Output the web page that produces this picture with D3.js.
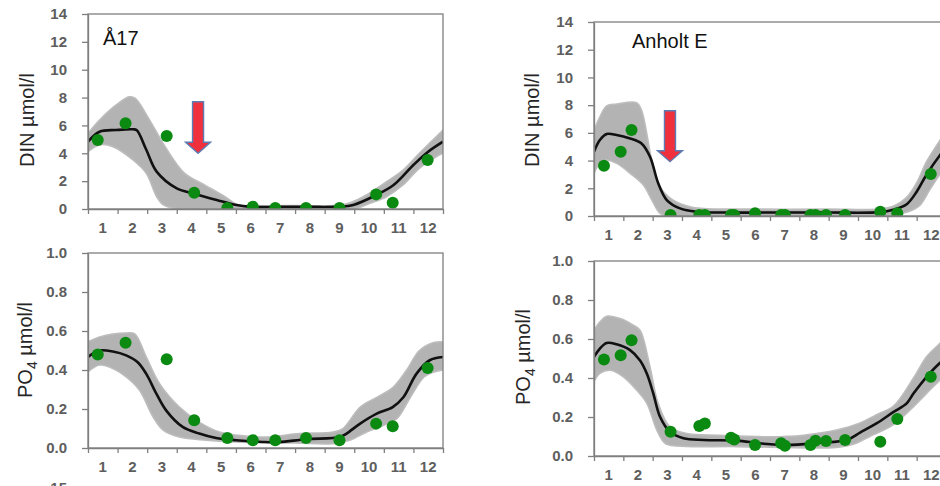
<!DOCTYPE html>
<html><head><meta charset="utf-8">
<script src="https://cdn.jsdelivr.net/npm/d3@7"></script>
<style>html,body{margin:0;padding:0;background:#fff;} svg{display:block;}</style>
</head><body>
<script>
// ---------- DATA ----------
const monthLabels = ["1","2","3","4","5","6","7","8","9","10","11","12"];
const dinTicks = [0,2,4,6,8,10,12,14];
const po4Ticks = [0,0.2,0.4,0.6,0.8,1.0];

// sampling dates (fractional month) and observations
const a17Dates = [0.33,1.27,2.66,3.59,4.71,5.57,6.33,7.37,8.5,9.74,10.3,11.48];
const a17Din   = [4.95,6.15,5.24,1.17,0.08,0.17,0.07,0.07,0.07,1.05,0.45,3.52];
const a17Po4   = [0.48,0.54,0.455,0.142,0.051,0.04,0.04,0.051,0.04,0.125,0.111,0.41];

const anhDates = [0.34,0.91,1.28,2.61,3.59,3.78,4.67,4.78,5.49,6.38,6.51,7.38,7.55,7.91,8.56,9.76,10.34,11.48];
const anhDin   = [3.63,4.64,6.2,0.07,0.07,0.07,0.07,0.07,0.19,0.07,0.07,0.07,0.07,0.07,0.07,0.31,0.19,3.03];
const anhPo4   = [0.495,0.517,0.594,0.124,0.154,0.167,0.094,0.085,0.056,0.065,0.053,0.056,0.078,0.077,0.082,0.073,0.19,0.406];

// climatological mean and band [month, value]
const a17DinMean = [[0,4.83],[0.39,5.55],[0.95,5.67],[1.52,5.72],[1.65,5.65],[1.97,4.25],[2.32,2.68],[3.0,1.48],[3.59,1.1],[4.35,0.65],[4.97,0.3],[5.5,0.15],[6.5,0.15],[7.5,0.15],[8.49,0.17],[8.97,0.29],[9.74,1.0],[10.33,1.72],[11.0,3.16],[11.5,4.11],[12,4.83]];
const a17DinHi = [[0,5.43],[0.39,6.39],[0.95,7.47],[1.39,8.06],[1.6,7.94],[2.05,6.51],[2.61,4.47],[3.27,2.56],[3.95,1.72],[4.63,0.88],[5.07,0.29],[5.5,0.25],[7,0.25],[8.6,0.3],[9.3,0.88],[10.09,1.96],[10.65,2.8],[11.2,4.0],[12,5.67]];
const a17DinLo = [[0,4.11],[0.39,4.6],[0.84,4.47],[1.52,3.52],[1.97,2.56],[2.32,0.88],[2.55,0.29],[2.9,0.05],[5,0.02],[9,0.02],[9.53,0.41],[10.09,0.88],[10.65,1.72],[11.2,2.92],[11.77,3.75],[12,4.0]];

const anhDinMean = [[0,4.64],[0.2,5.48],[0.43,5.92],[0.77,5.85],[1.23,5.6],[1.62,5.24],[1.91,4.28],[2.19,2.36],[2.48,1.15],[2.93,0.55],[3.5,0.31],[4.5,0.25],[6,0.25],[8,0.25],[9.75,0.28],[10.2,0.45],[10.66,0.85],[11.0,1.75],[11.33,2.96],[11.8,4.4],[12,4.9]];
const anhDinHi = [[0,6.2],[0.2,7.16],[0.43,7.94],[0.77,8.08],[1.45,8.18],[1.62,7.65],[1.97,4.04],[2.25,2.11],[2.7,1.15],[3.27,0.67],[3.73,0.55],[5,0.5],[8,0.5],[9.7,0.5],[10.2,0.7],[10.66,1.35],[11.0,2.4],[11.33,3.9],[11.8,5.5],[12,6.2]];
const anhDinLo = [[0,3.08],[0.32,4.04],[0.77,3.8],[1.23,3.08],[1.68,2.24],[1.97,1.15],[2.25,0.19],[2.48,0.02],[5,0.02],[9.8,0.02],[10.3,0.1],[10.7,0.3],[11.1,0.75],[11.45,1.9],[11.8,3.0],[12,3.4]];

const a17Po4Mean = [[0,0.467],[0.39,0.50],[0.84,0.495],[1.29,0.475],[1.68,0.44],[1.97,0.38],[2.31,0.279],[2.64,0.193],[3.2,0.108],[3.76,0.074],[4.33,0.051],[5.0,0.04],[5.9,0.031],[6.46,0.03],[7.37,0.045],[8.52,0.056],[8.74,0.074],[9.2,0.125],[9.76,0.176],[10.3,0.21],[10.66,0.26],[11.1,0.38],[11.55,0.45],[12,0.467]];
const a17Po4Hi = [[0,0.544],[0.39,0.57],[1.29,0.59],[1.58,0.585],[1.97,0.467],[2.42,0.33],[3.09,0.21],[3.76,0.133],[4.44,0.082],[5.1,0.065],[6.0,0.056],[7.14,0.074],[8.28,0.082],[8.62,0.1],[9.2,0.21],[9.76,0.26],[10.3,0.31],[10.77,0.4],[11.2,0.5],[11.66,0.54],[12,0.544]];
const a17Po4Lo = [[0,0.39],[0.39,0.425],[0.84,0.407],[1.29,0.364],[1.74,0.296],[2.2,0.159],[2.54,0.091],[3.09,0.056],[4.0,0.04],[5,0.031],[7,0.025],[8.28,0.022],[8.85,0.04],[9.42,0.082],[10.0,0.116],[10.44,0.15],[10.9,0.26],[11.36,0.364],[11.7,0.39],[12,0.40]];

const anhPo4Mean = [[0,0.508],[0.2,0.551],[0.43,0.58],[0.77,0.573],[1.23,0.543],[1.57,0.49],[1.8,0.423],[2.02,0.321],[2.25,0.201],[2.59,0.124],[3.05,0.091],[3.73,0.082],[4.87,0.079],[5.66,0.065],[6.57,0.056],[7.7,0.068],[8.61,0.082],[9.07,0.12],[9.63,0.167],[10.2,0.225],[10.66,0.27],[10.89,0.32],[11.34,0.406],[11.8,0.478],[12,0.5]];
const anhPo4Hi = [[0,0.645],[0.2,0.688],[0.43,0.717],[0.89,0.705],[1.34,0.671],[1.57,0.645],[1.91,0.457],[2.19,0.27],[2.59,0.15],[3.16,0.116],[4.3,0.107],[6.0,0.099],[7.14,0.107],[8.27,0.133],[9.07,0.17],[9.6,0.21],[10.2,0.255],[10.89,0.4],[11.34,0.51],[11.8,0.58],[12,0.62]];
const anhPo4Lo = [[0,0.38],[0.2,0.423],[0.55,0.44],[1.0,0.406],[1.45,0.338],[1.8,0.27],[2.14,0.133],[2.42,0.065],[2.82,0.051],[4.87,0.048],[8.27,0.044],[8.84,0.06],[9.4,0.1],[10.2,0.159],[10.89,0.252],[11.34,0.321],[11.8,0.389],[12,0.41]];

// arrows [month, from value, to value]
const a17Arrow = [3.72, 7.7, 4.0];
const anhArrow = [2.59, 7.6, 3.92];

// ---------- DRAW ----------
const W = 940, H = 486;
const svg = d3.select("body").append("svg").attr("width", W).attr("height", H);
svg.append("rect").attr("width", W).attr("height", H).attr("fill", "#fff");
const FONT = "Arial, 'Liberation Sans', sans-serif";
const AX = "#7f7f7f";

const panels = [
  {id:"tl", box:[88,443,14,209], max:14, ticks:dinTicks, fmt:d3.format("d"), dates:a17Dates, obs:a17Din, mean:a17DinMean, hi:a17DinHi, lo:a17DinLo, title:"Å17", titlePos:[103,45], arrow:a17Arrow, ylab:"DIN", ylabPos:[34,120]},
  {id:"tr", box:[594,946,22,216], max:14, ticks:dinTicks, fmt:d3.format("d"), dates:anhDates, obs:anhDin, mean:anhDinMean, hi:anhDinHi, lo:anhDinLo, title:"Anholt E", titlePos:[632,48], arrow:anhArrow, ylab:"DIN", ylabPos:[539,120]},
  {id:"bl", box:[88,443,253,448], max:1, ticks:po4Ticks, fmt:d3.format(".1f"), dates:a17Dates, obs:a17Po4, mean:a17Po4Mean, hi:a17Po4Hi, lo:a17Po4Lo, ylab:"PO4", ylabPos:[32,350]},
  {id:"br", box:[594,946,261,456], max:1, ticks:po4Ticks, fmt:d3.format(".1f"), dates:anhDates, obs:anhPo4, mean:anhPo4Mean, hi:anhPo4Hi, lo:anhPo4Lo, ylab:"PO4", ylabPos:[530,357]}
];

panels.forEach(p => {
  const [L,R,T,B] = p.box;
  const x = d3.scaleLinear().domain([0,12]).range([L,R]);
  const y = d3.scaleLinear().domain([0,p.max]).range([B,T]);
  const g = svg.append("g");

  g.append("clipPath").attr("id","clip-"+p.id).append("rect")
    .attr("x",L).attr("y",T).attr("width",R-L).attr("height",B-T);
  const pg = g.append("g").attr("clip-path","url(#clip-"+p.id+")");

  const line = d3.line().x(d=>x(d[0])).y(d=>y(d[1])).curve(d3.curveCatmullRom.alpha(0.5));
  const up = line(p.hi);
  const dn = line(p.lo.slice().reverse()).replace(/^M/,"L");
  pg.append("path").attr("d", up + dn + "Z").attr("fill","#b3b3b3").attr("stroke","#bdbdbd").attr("stroke-width",1.5);
  pg.append("path").attr("d", line(p.mean)).attr("fill","none").attr("stroke","#111").attr("stroke-width",2.6);

  pg.selectAll("circle").data(p.dates.map((d,i)=>[d,p.obs[i]])).join("circle")
    .attr("cx",d=>x(d[0])).attr("cy",d=>y(d[1])).attr("r",6).attr("fill","#0b8a12");

  // frame
  g.append("rect").attr("x",L).attr("y",T).attr("width",R-L).attr("height",B-T)
    .attr("fill","none").attr("stroke",AX).attr("stroke-width",1.3);

  // y axis
  const ya = g.append("g").attr("transform",`translate(${L},0)`)
    .call(d3.axisLeft(y).tickValues(p.ticks).tickFormat(p.fmt).tickSize(6).tickSizeOuter(0).tickPadding(15));
  ya.select(".domain").attr("stroke",AX).attr("stroke-width",1.3);
  ya.selectAll(".tick line").attr("stroke",AX).attr("stroke-width",1.3);
  ya.selectAll(".tick text").attr("font-family",FONT).attr("font-size",15).attr("font-weight","bold").attr("fill","#5e5e5e");

  // x axis
  const xa = g.append("g").attr("transform",`translate(0,${B})`)
    .call(d3.axisBottom(x).tickValues(d3.range(0,13)).tickFormat("").tickSize(5).tickSizeOuter(0));
  xa.select(".domain").attr("stroke",AX).attr("stroke-width",1.3);
  xa.selectAll(".tick line").attr("stroke",AX).attr("stroke-width",1.3);
  g.selectAll(".mlab").data(monthLabels).join("text")
    .attr("x",(d,i)=>x(i+0.5)).attr("y",B+24).attr("text-anchor","middle")
    .attr("font-family",FONT).attr("font-size",15).attr("font-weight","bold").attr("fill","#5e5e5e").text(d=>d);

  // y label
  const t = g.append("text").attr("transform",`translate(${p.ylabPos[0]},${p.ylabPos[1]}) rotate(-90)`)
    .attr("text-anchor","middle").attr("font-family",FONT).attr("font-size",20).attr("fill","#262626");
  if (p.ylab === "DIN") {
    t.text("DIN µmol/l");
  } else {
    t.append("tspan").text("PO");
    t.append("tspan").attr("font-size",14).attr("dy",5).text("4");
    t.append("tspan").attr("dy",-5).text(" µmol/l");
  }

  if (p.title) {
    g.append("text").attr("x",p.titlePos[0]).attr("y",p.titlePos[1]).attr("font-family",FONT)
      .attr("font-size",20).attr("fill","#111").text(p.title);
  }

  if (p.arrow) {
    const [am, a0, a1] = p.arrow;
    const cx = x(am), yt = y(a0), yb = y(a1), hh = 11, sw = 5.5, hw = 12.5;
    const pts = [[cx-sw,yt],[cx+sw,yt],[cx+sw,yb-hh],[cx+hw,yb-hh],[cx,yb],[cx-hw,yb-hh],[cx-sw,yb-hh]];
    g.append("path").attr("d","M"+pts.map(d=>d.join(",")).join("L")+"Z")
      .attr("fill","#f0303c").attr("stroke","#5b7db5").attr("stroke-width",1.4);
  }
});

// cut-off tick label of a lower panel (partly visible at the bottom edge in the original)
svg.append("text").attr("x",67).attr("y",493).attr("text-anchor","end").attr("font-family",FONT)
  .attr("font-size",15).attr("font-weight","bold").attr("fill","#5e5e5e").text("15");
</script>
</body></html>
